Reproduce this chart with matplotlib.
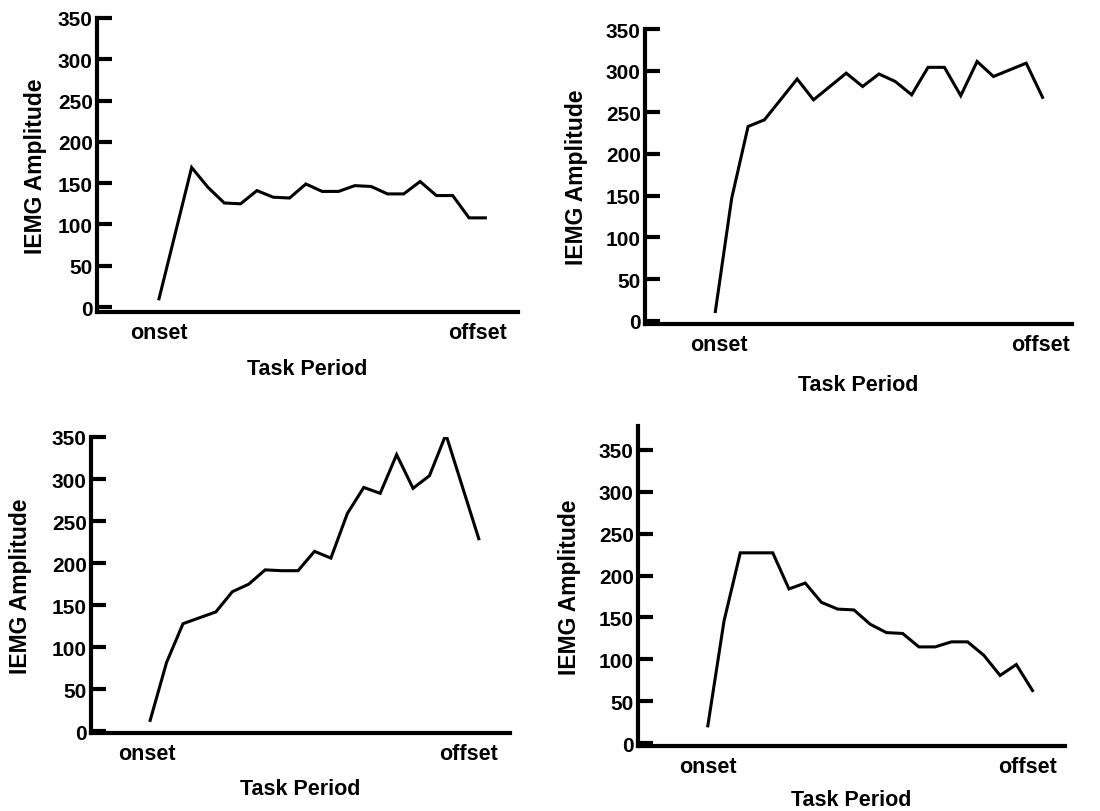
import matplotlib
matplotlib.use('Agg')
import matplotlib.pyplot as plt

plt.rcParams['font.family'] = ['Liberation Sans', 'DejaVu Sans']
plt.rcParams['font.weight'] = 'bold'

# task period positions (sample index) and IEMG amplitude for the four panels
x_a = [0, 2, 3, 4, 5, 6, 7, 8, 9, 10, 11, 12, 13, 14, 15, 16, 17, 18, 19, 20]
iemg_a = [10, 169, 145, 126, 125, 141, 133, 132, 149, 140, 140, 147, 146, 137, 137, 152, 135, 135, 108, 108]

x_b = [0, 1, 2, 3, 5, 6, 8, 9, 10, 11, 12, 13, 14, 15, 16, 17, 19, 20]
iemg_b = [11, 147, 233, 241, 290, 265, 297, 281, 296, 287, 271, 304, 304, 270, 311, 293, 309, 268]

x_c = [0, 1, 2, 3, 4, 5, 6, 7, 8, 9, 10, 11, 12, 13, 14, 15, 16, 17, 18, 20]
iemg_c = [13, 82, 128, 135, 142, 166, 175, 192, 191, 191, 214, 206, 259, 290, 283, 329, 289, 304, 353, 229]

x_d = [0, 1, 2, 3, 4, 5, 6, 7, 8, 9, 10, 11, 12, 13, 14, 15, 16, 17, 18, 19, 20]
iemg_d = [21, 146, 227, 227, 227, 184, 191, 168, 160, 159, 142, 132, 131, 115, 115, 121, 121, 105, 81, 94, 63]

y_ticks = [0, 50, 100, 150, 200, 250, 300, 350]
x_tick_labels = ['onset', 'offset']

W, H = 1100, 812
fig = plt.figure(figsize=(11, 8.12), dpi=100)


def px_axes(left, top, right, bottom):
    return fig.add_axes([left / W, 1 - bottom / H, (right - left) / W, (bottom - top) / H])


panels = [
    # x, y, axes box in pixels, xlim, ylim, onset/offset tick positions, xlabel pad, ylabel pad
    (x_a, iemg_a, (97, 19, 518, 313), (-3.8, 22.0), (-6, 350), (0.0, 19.5), 11, 8),
    (x_b, iemg_b, (645, 30, 1072, 325), (-4.3, 21.8), (-4, 350), (0.2, 19.9), 14, 13),
    (x_c, iemg_c, (91, 438, 510, 734), (-3.6, 21.9), (-2, 350), (-0.2, 19.4), 10, 14),
    (x_d, iemg_d, (638, 427, 1065, 747), (-4.3, 22.0), (-3, 378), (0.0, 19.7), 9, 13),
]

for xs, ys, box, xl, yl, xt, lp, ylp in panels:
    ax = px_axes(*box)
    ax.plot(xs, ys, color='black', linewidth=2.2, solid_joinstyle='miter')
    ax.set_xlim(*xl)
    ax.set_ylim(*yl)
    for s in ['top', 'right']:
        ax.spines[s].set_visible(False)
    for s in ['left', 'bottom']:
        ax.spines[s].set_linewidth(3)
    ax.set_yticks(y_ticks)
    ax.set_yticklabels([str(v) for v in y_ticks], fontsize=15, fontweight='bold')
    ax.tick_params(axis='y', direction='in', length=11, width=3, pad=3)
    ax.set_xticks(list(xt))
    ax.set_xticklabels(x_tick_labels, fontsize=15.5, fontweight='bold')
    ax.tick_params(axis='x', length=0, pad=7)
    ax.set_ylabel('IEMG Amplitude', fontsize=16.5, fontweight='bold', labelpad=ylp)
    ax.set_xlabel('Task Period', fontsize=15.5, fontweight='bold', labelpad=lp)

fig.savefig('out.png', dpi=100)
